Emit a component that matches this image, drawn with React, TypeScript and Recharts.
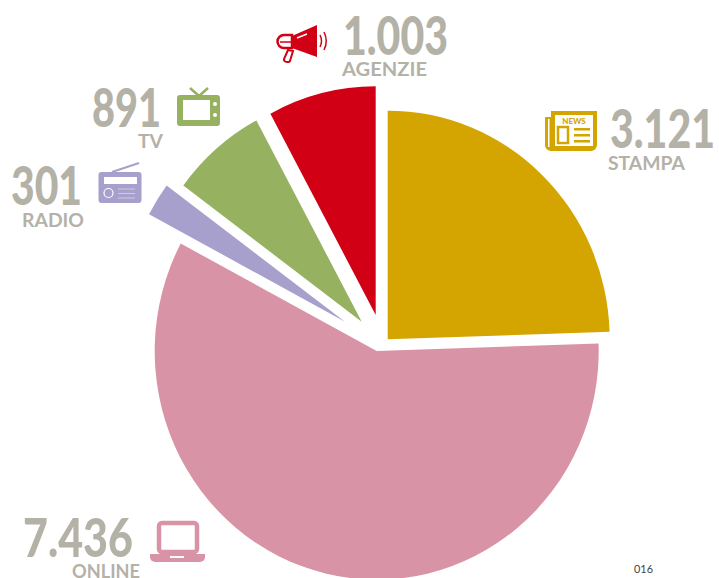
import { Pie, PieChart, Sector } from "recharts";

const categories = ["STAMPA", "ONLINE", "RADIO", "TV", "AGENZIE"];
const counts = [3121, 7436, 301, 891, 1003];
const countLabels = ["3.121", "7.436", "301", "891", "1.003"];

const chartData = categories.map((name, i) => ({ name, value: counts[i] }));

const sliceColors = ["#D4A500", "#D993A6", "#A79FCC", "#96B160", "#D10014"];
const GREY = "#B4B1A7";
const CX = 378;
const CY = 335;
const RADIUS = 222;
const STRETCH_Y = 1.03;

// how far each slice is pulled away from the centre
const sliceOffsets = [
  [9.7, 4.3],
  [-1.3, 16],
  [-33, -13.3],
  [-16.3, -13.3],
  [-2.3, -20],
];

// number x / baseline / width, caption x / baseline / width
const labelLayout = [
  { x: 610, y: 148, w: 105, capX: 608, capY: 170, capW: 77 },
  { x: 23, y: 557, w: 110, capX: 72, capY: 578, capW: 68 },
  { x: 11, y: 205, w: 71, capX: 22, capY: 227, capW: 62 },
  { x: 92, y: 127, w: 69, capX: 138, capY: 148, capW: 25 },
  { x: 343, y: 55, w: 105, capX: 342, capY: 76, capW: 85 },
];

function Newspaper({ c }: { c: string }) {
  return (
    <g>
      <path d="M551 111h46v34a6 6 0 0 1-6 6h-40a6 6 0 0 1-6-6v-28h6z" fill={c} />
      <rect x={548} y={119} width={1.5} height={28} fill="#fff" />
      <rect x={555} y={115} width={38} height={31} fill="#fff" />
      <text x={574} y={124} textAnchor="middle" fontSize={8} fontWeight={900} fontFamily="Lato" fill={c}>
        NEWS
      </text>
      <rect x={558} y={127} width={10} height={16} fill="none" stroke={c} strokeWidth={2.5} />
      <rect x={574} y={128} width={16} height={2.5} fill={c} />
      <rect x={574} y={134} width={16} height={2.5} fill={c} />
      <rect x={574} y={140} width={16} height={2.5} fill={c} />
    </g>
  );
}

function Laptop({ c }: { c: string }) {
  return (
    <g>
      <rect x={159} y={523} width={38} height={29} rx={3} fill="none" stroke={c} strokeWidth={4.5} />
      <path d="M150 554h55v3a5 5 0 0 1-5 5h-45a5 5 0 0 1-5-5z" fill={c} />
      <rect x={170} y={556} width={14} height={2} fill="#fff" />
    </g>
  );
}

function Radio({ c }: { c: string }) {
  return (
    <g>
      <path d="M112 172l27-9" stroke={c} strokeWidth={2} fill="none" />
      <rect x={98.5} y={172} width={43} height={31} rx={3} fill={c} />
      <rect x={104} y={177} width={33} height={7} fill="#fff" />
      <circle cx={108.5} cy={193} r={4.5} fill="none" stroke="#fff" strokeWidth={1.2} />
      <path d="M118 189h17M118 193.5h17M118 198h17" stroke="#fff" strokeWidth={0.8} opacity={0.6} />
    </g>
  );
}

function Television({ c }: { c: string }) {
  return (
    <g>
      <path d="M190 88l9 8 9-8" stroke={c} strokeWidth={2.5} fill="none" />
      <rect x={177} y={95} width={43} height={31} rx={3} fill={c} />
      <rect x={183} y={100} width={27} height={20} fill="#fff" />
      <circle cx={215} cy={104} r={2} fill="#fff" />
      <circle cx={215} cy={115} r={2} fill="#fff" />
    </g>
  );
}

function Megaphone({ c }: { c: string }) {
  return (
    <g>
      <path d="M292 36l25-11v32l-25-9z" fill={c} />
      <path d="M292 35h-8a6.500 6.500 0 0 0 0 13h8z" fill="none" stroke={c} strokeWidth={2.500} />
      <path d="M280 42h12" stroke={c} strokeWidth={1.500} />
      <path d="M288 50l5 1-3 10c-1 2-7 1-6-2z" fill="none" stroke={c} strokeWidth={2} />
      <path d="M297 38l10-4" stroke="#fff" strokeWidth={1.500} />
      <path d="M320 35c2 4 2 8 0 12M324 32c3 6 3 12 0 18" fill="none" stroke={c} strokeWidth={1.500} />
    </g>
  );
}

const icons = [Newspaper, Laptop, Radio, Television, Megaphone];

function renderSlice(props: any) {
  const { index, cx, cy, innerRadius, outerRadius, startAngle, endAngle } = props;
  const [dx, dy] = sliceOffsets[index];
  return (
    <g transform={`translate(${cx + dx} ${cy + dy}) scale(1 ${STRETCH_Y}) translate(${-cx} ${-cy})`}>
      <Sector
        cx={cx}
        cy={cy}
        innerRadius={innerRadius}
        outerRadius={outerRadius}
        startAngle={startAngle}
        endAngle={endAngle}
        fill={sliceColors[index]}
        stroke="none"
      />
    </g>
  );
}

function renderLabel(props: any) {
  const { index, name } = props;
  const spot = labelLayout[index];
  const Icon = icons[index];
  return (
    <g>
      <text
        x={spot.x}
        y={spot.y}
        fontFamily="Lato"
        fontWeight={900}
        fontSize={54}
        fill={GREY}
        textLength={spot.w}
        lengthAdjust="spacingAndGlyphs"
      >
        {countLabels[index]}
      </text>
      <text
        x={spot.capX}
        y={spot.capY}
        fontFamily="Lato"
        fontWeight={700}
        fontSize={18}
        fill={GREY}
        textLength={spot.capW}
        lengthAdjust="spacingAndGlyphs"
      >
        {name}
      </text>
      <Icon c={sliceColors[index]} />
    </g>
  );
}

export default function App() {
  return (
    <div style={{ position: "absolute", left: 0, top: 0, width: 719, height: 578, overflow: "hidden", background: "#fff" }}>
      <PieChart width={719} height={578} margin={{ top: 0, right: 0, bottom: 0, left: 0 }}>
        <Pie
          data={chartData}
          dataKey="value"
          nameKey="name"
          cx={CX}
          cy={CY}
          innerRadius={0}
          outerRadius={RADIUS}
          startAngle={90}
          endAngle={-270}
          paddingAngle={0}
          stroke="none"
          shape={renderSlice}
          label={renderLabel}
          labelLine={false}
          isAnimationActive={false}
        />
        <text x={634} y={573} textLength={19} lengthAdjust="spacingAndGlyphs" fontFamily="Lato" fontWeight={400} fontSize={12} fill="#444">
          016
        </text>
      </PieChart>
    </div>
  );
}
